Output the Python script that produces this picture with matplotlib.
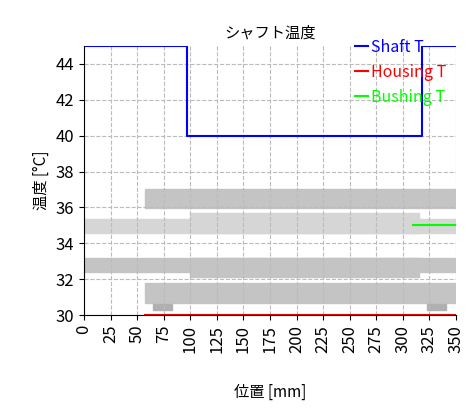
import matplotlib.pyplot as plt
from matplotlib.patches import Rectangle

plt.rcParams['font.family'] = ['Noto Sans CJK JP', 'DejaVu Sans']

shaft_x = [0, 97, 97, 318, 318, 350]
shaft_t = [45, 45, 40, 40, 45, 45]
housing_x = [57, 350]
housing_t = [30, 30]
bushing_x = [310, 350]
bushing_t = [35, 35]
xticks = list(range(0, 351, 25))

fig = plt.figure(figsize=(4.72, 4.13), dpi=100)
ax = fig.add_axes([0.178, 0.237, 0.788, 0.652])

# background drawing of the shaft assembly
g1, g2, g3 = '#c4c4c4', '#d6d6d6', '#b0b0b0'
ax.add_patch(Rectangle((57, 35.98), 293, 1.06, color=g1, zorder=0))
ax.add_patch(Rectangle((57, 30.7), 293, 1.1, color=g1, zorder=0))
ax.add_patch(Rectangle((0, 34.6), 350, 0.75, color=g2, zorder=0))
ax.add_patch(Rectangle((100, 34.6), 215, 1.1, color=g2, zorder=0))
ax.add_patch(Rectangle((0, 32.4), 350, 0.8, color=g1, zorder=0))
ax.add_patch(Rectangle((100, 32.1), 215, 1.1, color=g1, zorder=0))
ax.add_patch(Rectangle((65, 30.3), 18, 0.3, color=g3, zorder=0))
ax.add_patch(Rectangle((323, 30.3), 18, 0.3, color=g3, zorder=0))

ax.plot(shaft_x, shaft_t, color='blue', lw=1.5, label='Shaft T')
ax.plot(housing_x, housing_t, color='red', lw=1.5, label='Housing T')
ax.plot(bushing_x, bushing_t, color='#00ff00', lw=1.5, label='Bushing T')

ax.set_xlim(0, 350)
ax.set_ylim(30, 45)
ax.set_xticks(xticks)
ax.tick_params(axis='x', labelrotation=90, labelsize=12)
ax.tick_params(axis='y', labelsize=12)
ax.set_yticks(range(30, 45, 2))
ax.grid(True, ls='--', color='#bbbbbb')
for s in ['top', 'right']:
    ax.spines[s].set_visible(False)
ax.set_title('シャフト温度', fontsize=11)
ax.set_xlabel('位置 [mm]', fontsize=11, labelpad=22)
ax.set_ylabel('温度 [°C]', fontsize=11)
ax.legend(loc='upper left', bbox_to_anchor=(0.69, 1.08), frameon=False,
          labelcolor='linecolor', fontsize=11.5, handlelength=0.8,
          handletextpad=0.2, labelspacing=0.5)

fig.savefig('out.png')
